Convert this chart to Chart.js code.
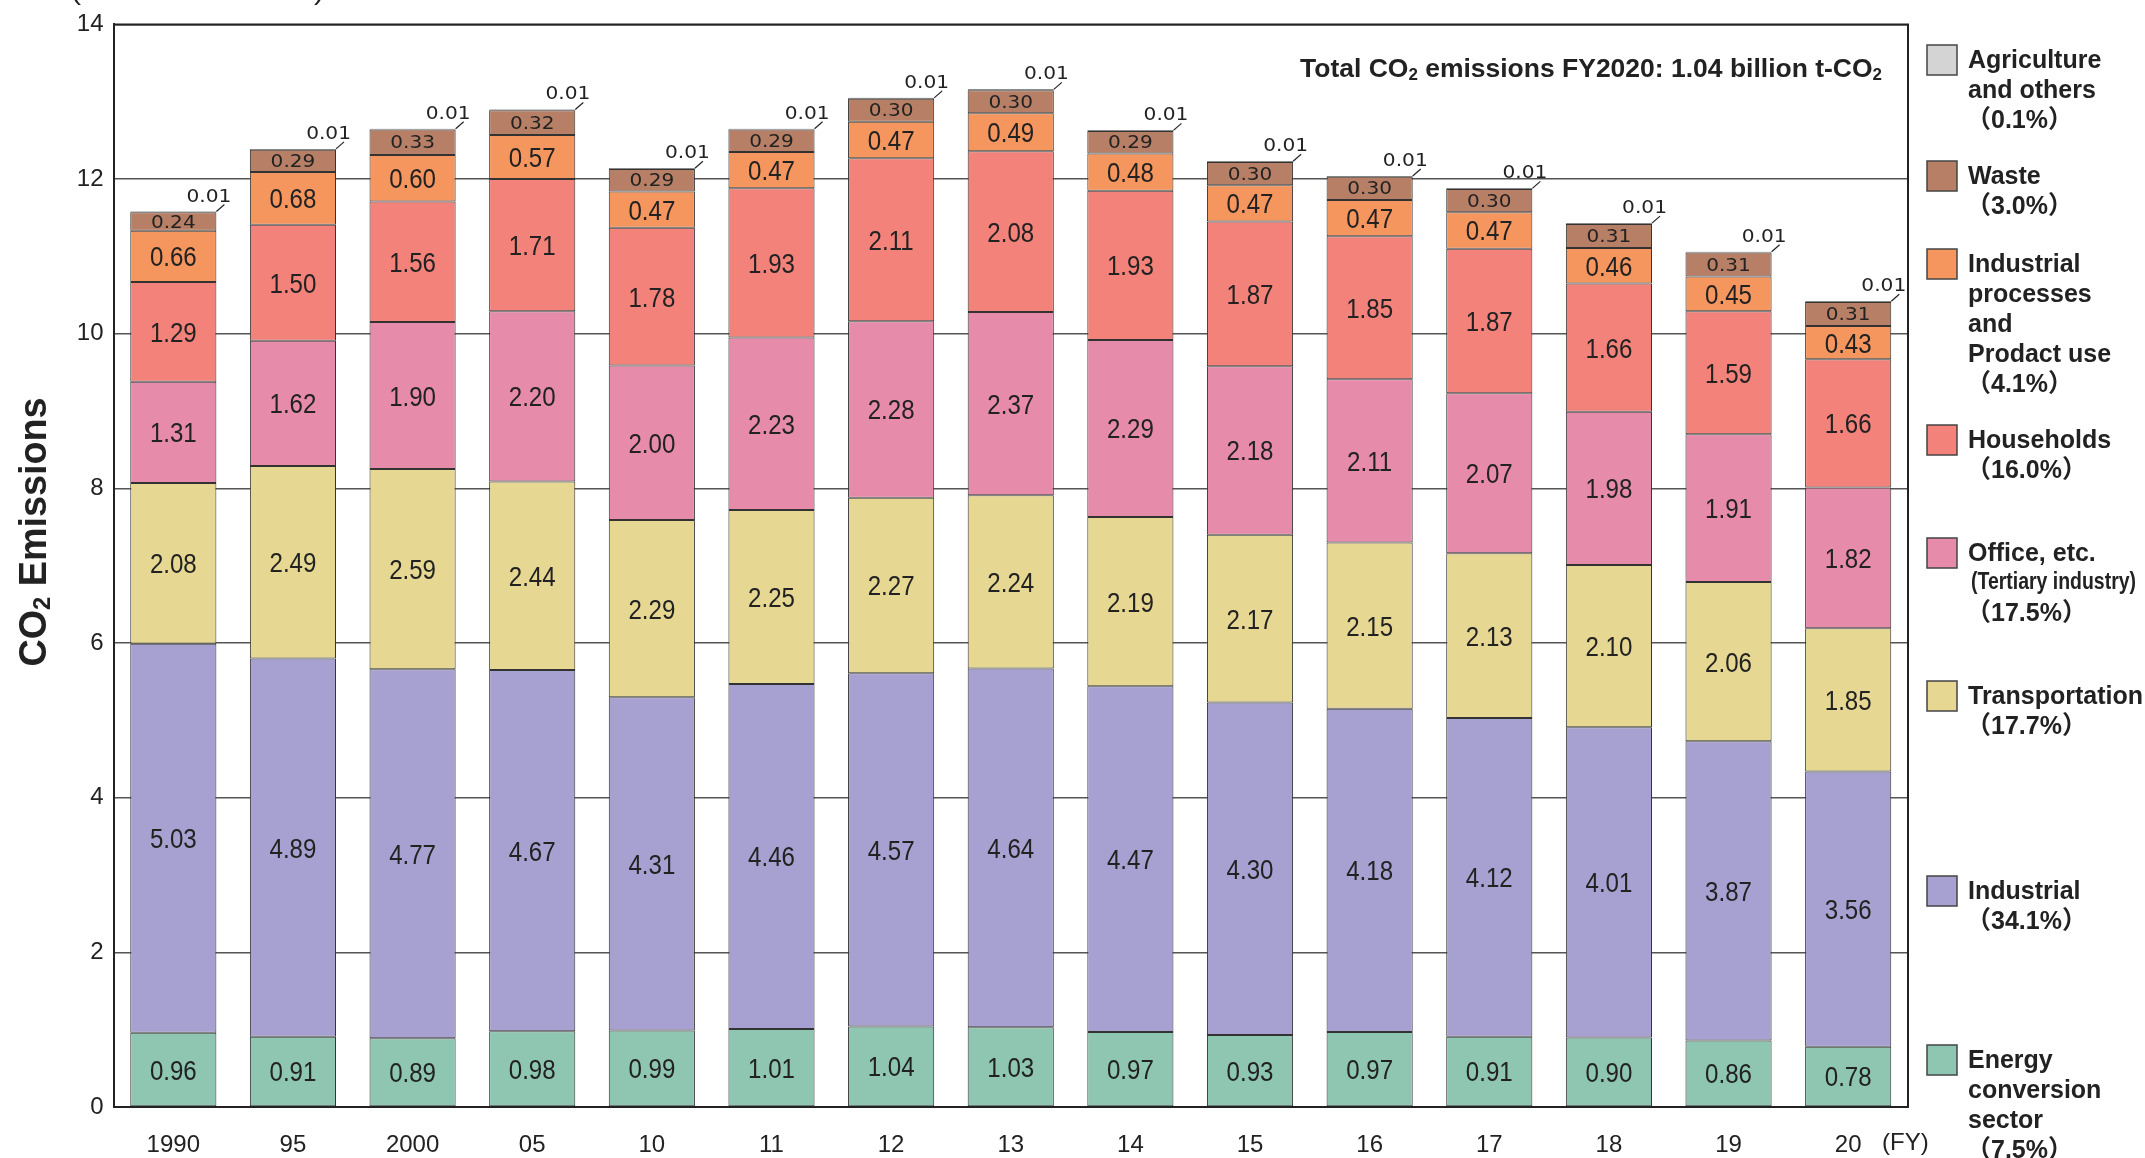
<!DOCTYPE html>
<html>
<head>
<meta charset="utf-8">
<script src="https://cdn.jsdelivr.net/npm/chart.js@4.4.1/dist/chart.umd.min.js"></script>
<style>
  html, body { margin: 0; padding: 0; background: #fff; }
  #wrap { width: 2145px; height: 1158px; }
</style>
</head>
<body>
<div id="wrap"><canvas id="co2Chart" width="2145" height="1158"></canvas></div>
<script>
// fiscal years on the x axis
const years = ["1990", "95", "2000", "05", "10", "11", "12", "13", "14", "15", "16", "17", "18", "19", "20"];

// 100 million t-CO2, stacked bottom -> top
const energyConversion = [0.96, 0.91, 0.89, 0.98, 0.99, 1.01, 1.04, 1.03, 0.97, 0.93, 0.97, 0.91, 0.90, 0.86, 0.78];
const industrial = [5.03, 4.89, 4.77, 4.67, 4.31, 4.46, 4.57, 4.64, 4.47, 4.30, 4.18, 4.12, 4.01, 3.87, 3.56];
const transportation = [2.08, 2.49, 2.59, 2.44, 2.29, 2.25, 2.27, 2.24, 2.19, 2.17, 2.15, 2.13, 2.10, 2.06, 1.85];
const office = [1.31, 1.62, 1.90, 2.20, 2.00, 2.23, 2.28, 2.37, 2.29, 2.18, 2.11, 2.07, 1.98, 1.91, 1.82];
const households = [1.29, 1.50, 1.56, 1.71, 1.78, 1.93, 2.11, 2.08, 1.93, 1.87, 1.85, 1.87, 1.66, 1.59, 1.66];
const industrialProcesses = [0.66, 0.68, 0.60, 0.57, 0.47, 0.47, 0.47, 0.49, 0.48, 0.47, 0.47, 0.47, 0.46, 0.45, 0.43];
const waste = [0.24, 0.29, 0.33, 0.32, 0.29, 0.29, 0.30, 0.30, 0.29, 0.30, 0.30, 0.30, 0.31, 0.31, 0.31];
const agriculture = [0.01, 0.01, 0.01, 0.01, 0.01, 0.01, 0.01, 0.01, 0.01, 0.01, 0.01, 0.01, 0.01, 0.01, 0.01];

const yTicks = [0, 2, 4, 6, 8, 10, 12, 14];

// legend text (top -> bottom)
const legendNames = [
  ["Agriculture", "and others"],
  ["Waste"],
  ["Industrial", "processes", "and", "Prodact use"],
  ["Households"],
  ["Office, etc."],
  ["Transportation"],
  ["Industrial"],
  ["Energy", "conversion", "sector"],
];
const legendShares = ["（0.1%）", "（3.0%）", "（4.1%）", "（16.0%）", "（17.5%）", "（17.7%）", "（34.1%）", "（7.5%）"];

const INK = "#222";
const SANS = "'Liberation Sans', Arial, Helvetica, sans-serif";

const series = [
  { label: "Energy conversion sector", data: energyConversion, color: "#8ec6b2" },
  { label: "Industrial", data: industrial, color: "#a7a1d1" },
  { label: "Transportation", data: transportation, color: "#e6d793" },
  { label: "Office, etc.", data: office, color: "#e78bab" },
  { label: "Households", data: households, color: "#f2827a" },
  { label: "Industrial processes and Prodact use", data: industrialProcesses, color: "#f5965f" },
  { label: "Waste", data: waste, color: "#b77f66" },
  { label: "Agriculture and others", data: agriculture, color: "#d4d4d4" },
];

// text with a subscript "2", squeezed to a target width if given
function drawRich(ctx, parts, x, y, size, weight, targetW, align) {
  const main = weight + " " + size + "px " + SANS;
  const sub = weight + " " + Math.round(size * 0.62) + "px " + SANS;
  let w = 0;
  parts.forEach((p) => {
    ctx.font = p.sub ? sub : main;
    p.w = ctx.measureText(p.t).width;
    w += p.w;
  });
  const sx = targetW ? targetW / w : 1;
  ctx.save();
  ctx.translate(x, y);
  ctx.scale(sx, 1);
  let cx = align === "right" ? -w : align === "center" ? -w / 2 : 0;
  ctx.textAlign = "left";
  ctx.textBaseline = "alphabetic";
  ctx.fillStyle = INK;
  parts.forEach((p) => {
    ctx.font = p.sub ? sub : main;
    ctx.fillText(p.t, cx, p.sub ? size * 0.1 : 0);
    cx += p.w;
  });
  ctx.restore();
}

function drawScaled(ctx, text, x, y, font, sx, align) {
  ctx.save();
  ctx.translate(x, y);
  ctx.scale(sx, 1);
  ctx.font = font;
  ctx.textAlign = align || "center";
  ctx.textBaseline = "alphabetic";
  ctx.fillStyle = INK;
  ctx.fillText(text, 0, 0);
  ctx.restore();
}

const decorPlugin = {
  id: "decor",
  afterDatasetsDraw(chart) {
    const ctx = chart.ctx;
    const area = chart.chartArea;

    // frame top and right
    ctx.save();
    ctx.strokeStyle = INK;
    ctx.lineWidth = 2;
    ctx.beginPath();
    ctx.moveTo(area.left, area.top);
    ctx.lineTo(area.right, area.top);
    ctx.lineTo(area.right, area.bottom);
    ctx.stroke();
    ctx.restore();

    // values inside segments
    chart.data.datasets.forEach((ds, di) => {
      const meta = chart.getDatasetMeta(di);
      meta.data.forEach((bar, i) => {
        const v = ds.data[i];
        const txt = v.toFixed(2);
        if (di === 7) {
          // agriculture: label with a leader line above the bar
          const xr = bar.x + bar.width / 2;
          const yt = Math.min(bar.y, bar.base);
          ctx.save();
          ctx.strokeStyle = INK;
          ctx.lineWidth = 1.2;
          ctx.beginPath();
          ctx.moveTo(xr, yt);
          ctx.lineTo(xr + 8, yt - 7);
          ctx.stroke();
          ctx.restore();
          drawScaled(ctx, txt, xr + 15, yt - 10, "18px 'DejaVu Sans', sans-serif", 1.12, "right");
          return;
        }
        const cy = (bar.y + bar.base) / 2;
        if (di === 6) {
          drawScaled(ctx, txt, bar.x, cy + 6, "17px 'DejaVu Sans', sans-serif", 1.18, "center");
        } else {
          drawScaled(ctx, txt, bar.x, cy + 10, "28px " + SANS, 0.86, "center");
        }
      });
    });
  },
  afterDraw(chart) {
    const ctx = chart.ctx;

    // unit line, cut off by the top edge
    drawRich(ctx, [{ t: "(100 million t-CO2)" }], 71, 0, 25, "normal", 253, "left");

    // total note
    drawRich(ctx, [
      { t: "Total CO" }, { t: "2", sub: true },
      { t: " emissions FY2020: 1.04 billion t-CO" }, { t: "2", sub: true },
    ], 1882, 77, 25, "bold", 582, "right");

    // y axis title
    ctx.save();
    ctx.translate(46, 532);
    ctx.rotate(-Math.PI / 2);
    drawRich(ctx, [{ t: "CO" }, { t: "2", sub: true }, { t: " Emissions" }], 0, 0, 38, "bold", 269, "center");
    ctx.restore();

    // (FY)
    drawScaled(ctx, "(FY)", 1882, 1150, "24px " + SANS, 1, "left");

    // legend
    const tops = [45, 161, 249, 425, 538, 681, 876, 1045];
    const colors = series.slice().reverse().map((s) => s.color);
    const lh = 30;
    legendNames.forEach((lines, k) => {
      const top = tops[k];
      ctx.save();
      ctx.fillStyle = colors[k];
      ctx.fillRect(1927, top, 30, 30);
      ctx.strokeStyle = "#444";
      ctx.lineWidth = 1.5;
      ctx.strokeRect(1927, top, 30, 30);
      ctx.restore();
      let y = top + 23;
      lines.forEach((ln) => {
        drawScaled(ctx, ln, 1968, y, "bold 25px " + SANS, 1, "left");
        y += lh;
      });
      if (k === 4) {
        drawRich(ctx, [{ t: "(Tertiary industry)" }], 1971, y - 2, 24, "bold", 165, "left");
        y += lh;
      }
      drawScaled(ctx, legendShares[k], 1966, y, "bold 25px " + SANS + ", 'Noto Sans CJK JP'", 1, "left");
    });
  },
};

const ctx = document.getElementById("co2Chart").getContext("2d");
new Chart(ctx, {
  type: "bar",
  data: {
    labels: years,
    datasets: series.map((s) => ({
      label: s.label,
      data: s.data,
      backgroundColor: s.color,
      borderColor: "#333",
      borderWidth: 1,
      borderSkipped: false,
      barPercentage: 0.72,
      categoryPercentage: 1,
    })),
  },
  options: {
    responsive: false,
    animation: false,
    devicePixelRatio: 1,
    layout: { padding: { left: 0, top: 23, right: 237, bottom: 0 } },
    plugins: { legend: { display: false }, tooltip: { enabled: false } },
    scales: {
      x: {
        stacked: true,
        grid: { display: false },
        border: { display: true, color: INK, width: 2 },
        ticks: {
          color: INK,
          font: { family: SANS, size: 24 },
          padding: 16,
          maxRotation: 0,
          autoSkip: false,
        },
        afterFit: (s) => { s.height = 51; },
      },
      y: {
        stacked: true,
        min: 0,
        max: 14,
        afterBuildTicks: (s) => { s.ticks = yTicks.map((v) => ({ value: v })); },
        ticks: { color: INK, font: { family: SANS, size: 24 }, padding: 10 },
        grid: { color: "#555", lineWidth: 1.5, drawTicks: false },
        border: { display: true, color: INK, width: 2 },
        afterFit: (s) => { s.width = 113.5; },
      },
    },
  },
  plugins: [decorPlugin],
});
</script>
</body>
</html>
